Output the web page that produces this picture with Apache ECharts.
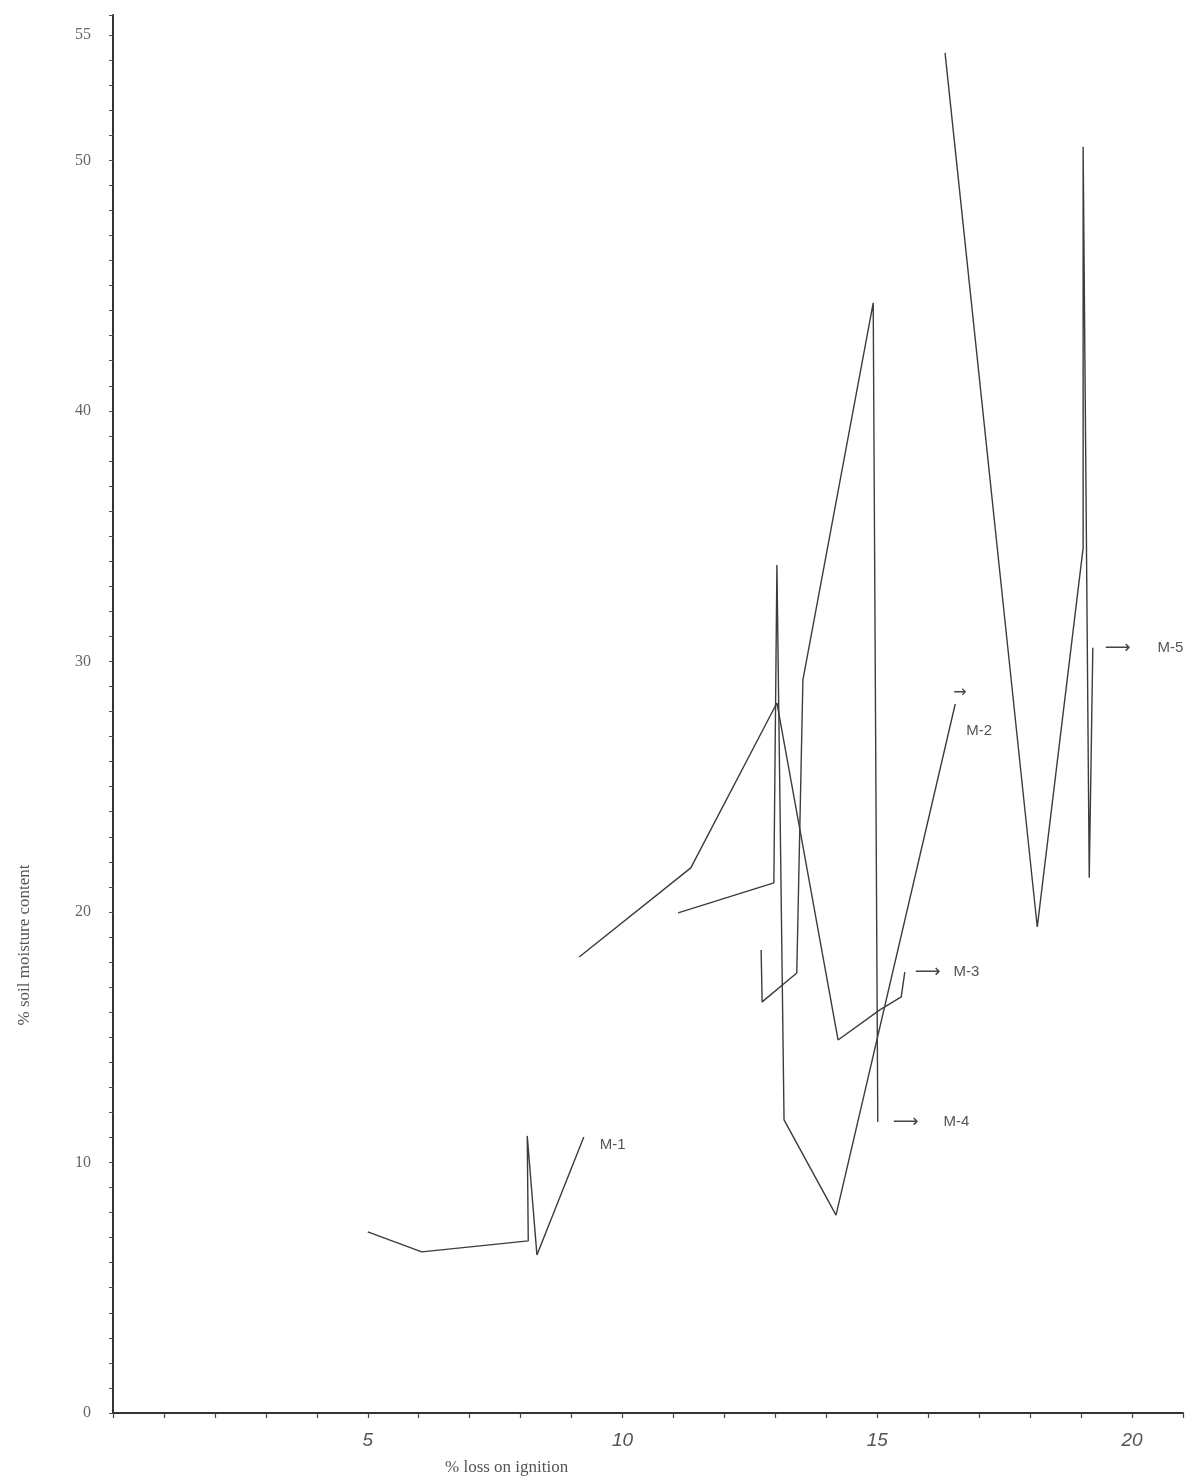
<!DOCTYPE html>
<html>
<head>
<meta charset="utf-8">
<script src="https://cdn.jsdelivr.net/npm/echarts@6/dist/echarts.min.js"></script>
<style>
  html, body { margin: 0; padding: 0; background: #ffffff; }
  #chart { width: 1192px; height: 1483px; }
</style>
</head>
<body>
<div id="chart"></div>
<script>
// Profiles: [% loss on ignition, % soil moisture content]
const M1 = [[5.00, 7.23], [6.06, 6.43], [8.15, 6.87], [8.13, 11.06], [8.32, 6.31], [9.24, 11.02]];
const M2 = [[11.09, 19.96], [12.97, 21.16], [13.03, 33.85], [13.17, 11.70], [14.19, 7.90], [16.53, 28.3]];
const M3 = [[9.15, 18.20], [11.34, 21.76], [13.03, 28.34], [14.23, 14.89], [15.05, 16.09], [15.47, 16.61], [15.54, 17.60]];
const M4 = [[12.72, 18.48], [12.74, 16.41], [13.42, 17.56], [13.54, 29.26], [14.92, 44.31], [15.01, 11.62]];
const M5 = [[16.33, 54.29], [18.14, 19.40], [19.04, 34.53], [19.04, 50.54], [19.16, 21.36], [19.23, 30.54]];

const seriesNames = ['M-1', 'M-2', 'M-3', 'M-4', 'M-5'];
const xTickLabels = [5, 10, 15, 20];
const yTickLabels = [0, 10, 20, 30, 40, 50, 55];
const xTitle = '% loss on ignition';
const yTitle = '% soil moisture content';

const lineColor = '#3c3c3c';
const labelStyle = { color: '#555', fontFamily: 'Liberation Sans, Arial, sans-serif', fontSize: 15 };
const arrowStyle = { color: '#444', fontFamily: 'DejaVu Sans, sans-serif', fontSize: 18 };

function mkSeries(name, data, endLabel) {
  return {
    name: name,
    type: 'line',
    data: data,
    symbol: 'none',
    silent: true,
    lineStyle: { color: lineColor, width: 1.4 },
    endLabel: Object.assign({ show: true, distance: 0 }, labelStyle, endLabel)
  };
}

function arrowLabel(name, gap, offsetX) {
  return {
    formatter: '{a|⟶}{b|' + name + '}',
    offset: [offsetX, 0],
    rich: {
      a: arrowStyle,
      b: Object.assign({ padding: [0, 0, 0, gap] }, labelStyle)
    }
  };
}

const chart = echarts.init(document.getElementById('chart'), null, { renderer: 'canvas' });
chart.setOption({
  animation: false,
  backgroundColor: '#ffffff',
  grid: { left: 113, right: 9, top: 15, bottom: 70 },
  xAxis: {
    type: 'value', min: 0, max: 21, interval: 1,
    axisLine: { show: true, lineStyle: { color: '#333', width: 2 } },
    axisTick: { show: true, length: 5, lineStyle: { color: '#444', width: 1.2 } },
    splitLine: { show: false },
    axisLabel: {
      margin: 18,
      color: '#555', fontSize: 19, fontStyle: 'italic',
      fontFamily: 'Liberation Sans, Arial, sans-serif',
      formatter: v => (xTickLabels.indexOf(v) >= 0 ? String(v) : '')
    }
  },
  yAxis: {
    type: 'value', min: 0, max: 55.8, interval: 1,
    axisLine: { show: true, lineStyle: { color: '#333', width: 2 } },
    axisTick: { show: true, length: 4, lineStyle: { color: '#555', width: 1 } },
    splitLine: { show: false },
    axisLabel: {
      margin: 22,
      color: '#666', fontSize: 16,
      fontFamily: 'Liberation Serif, Times New Roman, serif',
      formatter: v => (yTickLabels.indexOf(v) >= 0 ? String(v) : '')
    }
  },
  graphic: [
    {
      type: 'text', left: 445, top: 1459,
      style: { text: xTitle, fill: '#555', font: '17px "Liberation Serif", serif' }
    },
    {
      type: 'text', x: 25, y: 945, rotation: Math.PI / 2,
      style: { text: yTitle, fill: '#555', font: '17px "Liberation Serif", serif', textAlign: 'center', textVerticalAlign: 'middle' }
    }
  ],
  series: [
    mkSeries(seriesNames[0], M1, { formatter: seriesNames[0], offset: [16, 8] }),
    mkSeries(seriesNames[1], M2, {
      formatter: '{a|→}\n{b|' + seriesNames[1] + '}', offset: [-2, -1],
      rich: {
        a: { fontSize: 16, color: '#444', fontFamily: 'DejaVu Sans, sans-serif', lineHeight: 56 },
        b: Object.assign({ lineHeight: 20, padding: [0, 0, 0, 13] }, labelStyle)
      }
    }),
    mkSeries(seriesNames[2], M3, arrowLabel(seriesNames[2], 13, 10)),
    mkSeries(seriesNames[3], M4, arrowLabel(seriesNames[3], 25, 15)),
    mkSeries(seriesNames[4], M5, arrowLabel(seriesNames[4], 27, 12))
  ]
});
</script>
</body>
</html>
